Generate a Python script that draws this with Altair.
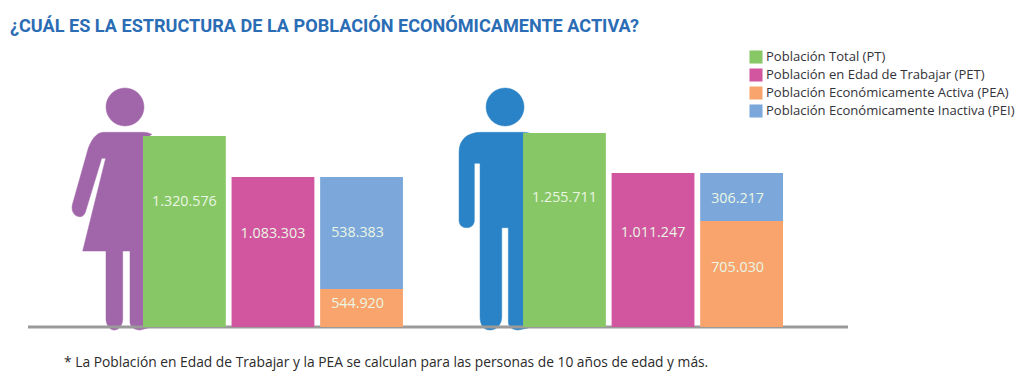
import altair as alt
import pandas as pd

# Las alturas son las dibujadas en la figura original (no proporcionales a las cifras rotuladas)
grupos = ["Mujeres"] * 4 + ["Hombres"] * 4
columnas = ["PT", "PET", "PEAI", "PEAI"] * 2
series = ["Población Total (PT)", "Población en Edad de Trabajar (PET)",
          "Población Económicamente Activa (PEA)", "Población Económicamente Inactiva (PEI)"] * 2
alturas = [191, 150, 38, 112, 194, 154, 106, 48]
orden = [0, 0, 0, 1, 0, 0, 0, 1]
rotulos = ["1.320.576", "1.083.303", "544.920", "538.383",
           "1.255.711", "1.011.247", "705.030", "306.217"]
altura_rotulo = [125, 93, 23, 94, 129, 94, 59, 128]

leyenda = ["Población Total (PT)", "Población en Edad de Trabajar (PET)",
           "Población Económicamente Activa (PEA)", "Población Económicamente Inactiva (PEI)"]
colores = ["#88C766", "#D2559F", "#F9A46C", "#7BA7DA"]

titulo = "¿CUÁL ES LA ESTRUCTURA DE LA POBLACIÓN ECONÓMICAMENTE ACTIVA?"
nota = ["* La Población en Edad de Trabajar y la PEA se calculan para las personas de 10 años de edad y más."]

MUJER = ("M-18,-239 a19,19 0 1,0 0.01,0 Z "
         "M-39.7,-194.7 C-47,-194.7 -52,-186 -54.7,-178.7 L-70.7,-122 C-72,-115 -68,-110.3 -63,-110.3 "
         "C-60,-110.3 -58,-113 -57,-117 L-41.3,-168.7 L-37.3,-168.7 L-60.3,-76 L-37,-76 L-37,-8 "
         "C-37,-2 -33,3 -29,3 C-24,3 -20.3,-2 -20.3,-8 L-20.3,-76 L-13,-76 L-13,-5 "
         "C-13,0 -8,3 -3,3 L5,1 L5,-190 L8.7,-192.7 C6,-194 4,-194.7 0,-194.7 Z")
HOMBRE = ("M-18,-239 a19,19 0 1,0 0.01,0 Z "
          "M-42,-194.7 C-56,-194.7 -64,-187 -64,-175 L-64,-107 C-64,-102 -61,-99.3 -56.3,-99.3 "
          "C-52,-99.3 -48.7,-102 -48.7,-107 L-48.7,-163.7 L-43,-163.7 L-43,-10 "
          "C-43,-3 -40,3 -33,3 C-26,3 -21.3,-3 -21.3,-10 L-21.3,-99.3 L-14.7,-99.3 L-14.7,-5 "
          "C-14.7,0 -10,3 -5,3 L5,1 L5,-190 L8.7,-193 C6,-194 4,-194.7 0,-194.7 Z")

df = pd.DataFrame({"grupo": grupos, "columna": columnas, "serie": series, "altura": alturas,
                   "orden": orden, "rotulo": rotulos, "altura_rotulo": altura_rotulo})

esc_grupo = alt.Scale(domain=["Mujeres", "Hombres"], range=[135, 775], paddingInner=0.316, paddingOuter=0)
x_grupo = alt.X("grupo:N", axis=None, scale=esc_grupo)
x_off = alt.XOffset("columna:N", scale=alt.Scale(domain=["PT", "PET", "PEAI"], paddingInner=0.065, paddingOuter=0))
y_esc = alt.Scale(domain=[0, 279], nice=False, zero=True)


def figura(nombre, trazo, color):
    return alt.Chart(pd.DataFrame({"grupo": [nombre], "v": [0]})).mark_point(
        shape=trazo, size=4, filled=True, fill=color, stroke=color, strokeWidth=0.5, opacity=1
    ).encode(
        x=alt.X("grupo:N", axis=None, bandPosition=0, scale=esc_grupo),
        y=alt.Y("v:Q", axis=None, scale=y_esc),
    )


barras = alt.Chart(df).mark_bar(opacity=1, strokeWidth=0).encode(
    x=x_grupo,
    xOffset=x_off,
    y=alt.Y("altura:Q", axis=None, stack="zero", scale=y_esc),
    order=alt.Order("orden:Q"),
    color=alt.Color("serie:N", sort=leyenda,
                    scale=alt.Scale(domain=leyenda, range=colores),
                    legend=alt.Legend(orient="none", legendX=741, legendY=2, title=None,
                                      symbolType="square", symbolSize=170, symbolStrokeWidth=0,
                                      symbolOpacity=1, labelFont="Open Sans", labelFontSize=13.05,
                                      labelColor="#33333a", rowPadding=3, labelOffset=3,
                                      labelLimit=300, padding=0)),
)


def rotulos_capa(filtro, dx):
    return alt.Chart(df).transform_filter(filtro).mark_text(
        font="Open Sans", fontSize=14.3, color="#EAF6E4", baseline="middle", dx=dx
    ).encode(
        x=alt.X("grupo:N", axis=None, bandPosition=0.5, scale=esc_grupo),
        xOffset=x_off,
        y=alt.Y("altura_rotulo:Q", axis=None, scale=y_esc),
        text="rotulo:N",
    )


base = alt.Chart(pd.DataFrame({"v": [0]})).mark_rule(color="#9A9A9A", strokeWidth=3).encode(
    x=alt.value(20), x2=alt.value(840), y=alt.Y("v:Q", axis=None, scale=y_esc)
)

pie = alt.Chart(pd.DataFrame({"t": nota})).mark_text(
    font="Open Sans", fontSize=13.8, fontWeight=500, color="#2b2b2b", align="left", baseline="middle"
).encode(x=alt.value(56), y=alt.value(315), text="t:N")

chart = alt.layer(
    figura("Mujeres", MUJER, "#A066A9"), figura("Hombres", HOMBRE, "#2A83C6"),
    base, barras,
    rotulos_capa("datum.columna != 'PEAI'", 0),
    rotulos_capa("datum.columna == 'PEAI'", -4),
    pie,
).properties(
    width=1008, height=279,
    autosize=alt.AutoSizeParams(type="none"),
    padding={"left": 0, "right": 0, "top": 40, "bottom": 44},
    title=alt.TitleParams(titulo, anchor="start", orient="top", frame="group", font="Roboto",
                          fontSize=18.1, fontWeight="bold", color="#2A6DB5", offset=12, dx=2),
).configure_view(stroke=None)

chart.save("out.html", embed_options={"renderer": "svg", "actions": False})
